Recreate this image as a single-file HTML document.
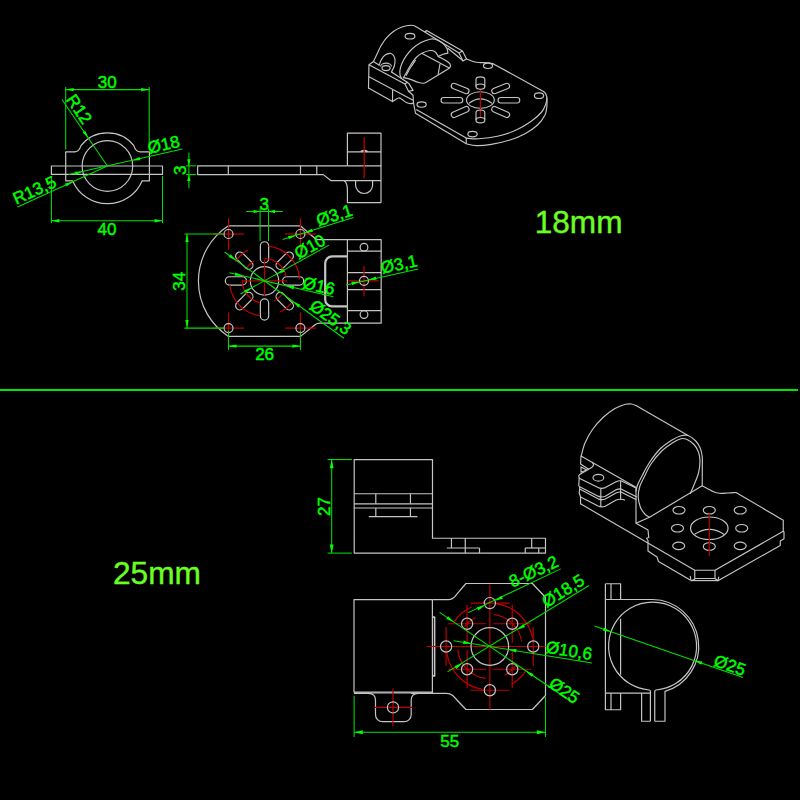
<!DOCTYPE html>
<html><head><meta charset="utf-8"><title>mount drawing</title>
<style>
html,body{margin:0;padding:0;background:#000;}
body{width:800px;height:800px;overflow:hidden;}
svg{display:block;}
text{font-family:"Liberation Sans",sans-serif;}
</style></head><body>
<svg width="800" height="800" viewBox="0 0 800 800">
<rect x="0" y="0" width="800" height="800" fill="#000"/>
<rect x="0" y="389" width="798" height="2" fill="#00e400"/>
<text x="534.7" y="232.7" font-size="31.6" fill="#6aff24" stroke="#6aff24" stroke-width="0.4">18mm</text>
<text x="112.9" y="583.8" font-size="31.7" fill="#6aff24" stroke="#6aff24" stroke-width="0.4">25mm</text>
<circle cx="107.40" cy="166.00" r="25.30" stroke="#c4c4c4" stroke-width="1.2" fill="none"/>
<path d="M51.4,166 H162.5 V174.4 H51.4 Z" stroke="#c4c4c4" stroke-width="1.2" fill="none" stroke-linejoin="round"/>
<path d="M74.50,151.85 L65.70,151.85 L65.70,180.90 L72.70,180.90" stroke="#c4c4c4" stroke-width="1.2" fill="none" stroke-linejoin="round" stroke-linecap="round"/>
<path d="M140.30,151.85 L149.40,151.85 L149.40,180.90 L142.10,180.90" stroke="#c4c4c4" stroke-width="1.2" fill="none" stroke-linejoin="round" stroke-linecap="round"/>
<path d="M74.5,151.85 Q79,151.85 81,145.6 A33.6,33.6 0 0 1 133.8,145.6 Q135.8,151.85 140.3,151.85" stroke="#c4c4c4" stroke-width="1.2" fill="none" stroke-linejoin="round"/>
<path d="M72.7,180.9 A37.8,37.8 0 0 0 142.1,180.9" stroke="#c4c4c4" stroke-width="1.2" fill="none" stroke-linejoin="round"/>
<line x1="65.70" y1="87.00" x2="65.70" y2="149.50" stroke="#00e000" stroke-width="1.05"/>
<line x1="149.20" y1="87.00" x2="149.20" y2="150.00" stroke="#00e000" stroke-width="1.05"/>
<line x1="65.70" y1="89.60" x2="149.20" y2="89.60" stroke="#00e000" stroke-width="1.05"/>
<path d="M65.70,89.60 L73.70,87.90 L73.70,91.30 Z" fill="#00ff00"/>
<path d="M149.20,89.60 L141.20,91.30 L141.20,87.90 Z" fill="#00ff00"/>
<text transform="translate(107.20,82.00) rotate(0.00)" x="0" y="6.09" font-size="17" fill="#00ff00" stroke="#00ff00" stroke-width="0.45" text-anchor="middle">30</text>
<line x1="51.40" y1="176.00" x2="51.40" y2="223.00" stroke="#00e000" stroke-width="1.05"/>
<line x1="162.50" y1="176.00" x2="162.50" y2="223.00" stroke="#00e000" stroke-width="1.05"/>
<line x1="51.40" y1="220.70" x2="162.50" y2="220.70" stroke="#00e000" stroke-width="1.05"/>
<path d="M51.40,220.70 L59.40,219.00 L59.40,222.40 Z" fill="#00ff00"/>
<path d="M162.50,220.70 L154.50,222.40 L154.50,219.00 Z" fill="#00ff00"/>
<text transform="translate(107.00,229.00) rotate(0.00)" x="0" y="6.09" font-size="17" fill="#00ff00" stroke="#00ff00" stroke-width="0.45" text-anchor="middle">40</text>
<line x1="107.40" y1="166.00" x2="62.00" y2="99.50" stroke="#00e000" stroke-width="1.05"/>
<path d="M88.48,138.25 L82.57,132.59 L85.38,130.68 Z" fill="#00ff00"/>
<text transform="translate(79.40,109.00) rotate(55.70)" x="0" y="6.09" font-size="17" fill="#00ff00" stroke="#00ff00" stroke-width="0.45" text-anchor="middle">R12</text>
<line x1="68.75" y1="174.60" x2="182.50" y2="149.00" stroke="#00e000" stroke-width="1.05"/>
<path d="M132.08,160.45 L139.51,157.03 L140.26,160.35 Z" fill="#00ff00"/>
<path d="M82.72,171.55 L75.29,174.97 L74.54,171.65 Z" fill="#00ff00"/>
<text transform="translate(163.70,144.30) rotate(-12.60)" x="0" y="6.09" font-size="17" fill="#00ff00" stroke="#00ff00" stroke-width="0.45" text-anchor="middle">Ø18</text>
<line x1="107.40" y1="166.00" x2="17.50" y2="207.00" stroke="#00e000" stroke-width="1.05"/>
<path d="M73.00,181.69 L66.43,186.55 L65.02,183.46 Z" fill="#00ff00"/>
<text transform="translate(34.40,189.90) rotate(-24.50)" x="0" y="6.09" font-size="17" fill="#00ff00" stroke="#00ff00" stroke-width="0.45" text-anchor="middle">R13,5</text>
<path d="M381.00,165.85 L197.65,165.85 L197.65,174.60 L323.25,174.60 L331.10,180.70 L344.25,180.70" stroke="#c4c4c4" stroke-width="1.2" fill="none" stroke-linejoin="round" stroke-linecap="round"/>
<path d="M344.25,180.7 Q347.4,183 347.4,190 V202.6 H381 V133.1 H347.4 V165.85" stroke="#c4c4c4" stroke-width="1.2" fill="none" stroke-linejoin="round"/>
<line x1="228.30" y1="165.85" x2="228.30" y2="174.60" stroke="#c4c4c4" stroke-width="1.2"/>
<line x1="300.50" y1="165.85" x2="300.50" y2="174.60" stroke="#c4c4c4" stroke-width="1.2"/>
<line x1="316.80" y1="165.85" x2="316.80" y2="174.60" stroke="#c4c4c4" stroke-width="1.2"/>
<line x1="347.40" y1="151.85" x2="381.00" y2="151.85" stroke="#c4c4c4" stroke-width="1.2"/>
<line x1="344.25" y1="180.70" x2="381.00" y2="180.70" stroke="#c4c4c4" stroke-width="1.2"/>
<path d="M355.6,180.7 V185 A8.5,8.5 0 0 0 372.6,185 V180.7" stroke="#c4c4c4" stroke-width="1.2" fill="none" stroke-linejoin="round"/>
<path d="M360.7,151.6 Q364.2,149.6 367.7,151.6" stroke="#c4c4c4" stroke-width="1.6" fill="none" stroke-linejoin="round"/>
<line x1="364.20" y1="137.20" x2="364.20" y2="178.30" stroke="#be0000" stroke-width="1.3"/>
<line x1="188.90" y1="152.40" x2="188.90" y2="188.20" stroke="#00e000" stroke-width="1.05"/>
<line x1="186.10" y1="165.85" x2="196.20" y2="165.85" stroke="#00e000" stroke-width="1.05"/>
<line x1="186.10" y1="174.60" x2="196.20" y2="174.60" stroke="#00e000" stroke-width="1.05"/>
<path d="M188.90,165.85 L187.20,159.35 L190.60,159.35 Z" fill="#00ff00"/>
<path d="M188.90,174.60 L190.60,181.10 L187.20,181.10 Z" fill="#00ff00"/>
<text transform="translate(180.30,170.20) rotate(-90.00)" x="0" y="6.09" font-size="17" fill="#00ff00" stroke="#00ff00" stroke-width="0.45" text-anchor="middle">3</text>
<path d="M228.4,225.8 H300.3 L316.5,239.7 H381.15 V323.2 H320 Q317,323.2 315,324.8 L300.6,336.4 H228.4 A66,66 0 0 1 228.4,225.8" stroke="#c4c4c4" stroke-width="1.2" fill="none" stroke-linejoin="round"/>
<circle cx="264.50" cy="280.90" r="14.20" stroke="#c4c4c4" stroke-width="1.2" fill="none"/>
<path d="M286.70,285.05 L299.50,285.05 A4.15,4.15 0 0 0 299.50,276.75 L286.70,276.75 A4.15,4.15 0 0 0 286.70,285.05 Z" stroke="#c4c4c4" stroke-width="1.2" fill="none" stroke-linejoin="round"/>
<path d="M277.26,299.53 L286.31,308.58 A4.15,4.15 0 0 0 292.18,302.71 L283.13,293.66 A4.15,4.15 0 0 0 277.26,299.53 Z" stroke="#c4c4c4" stroke-width="1.2" fill="none" stroke-linejoin="round"/>
<path d="M260.35,303.10 L260.35,315.90 A4.15,4.15 0 0 0 268.65,315.90 L268.65,303.10 A4.15,4.15 0 0 0 260.35,303.10 Z" stroke="#c4c4c4" stroke-width="1.2" fill="none" stroke-linejoin="round"/>
<path d="M245.87,293.66 L236.82,302.71 A4.15,4.15 0 0 0 242.69,308.58 L251.74,299.53 A4.15,4.15 0 0 0 245.87,293.66 Z" stroke="#c4c4c4" stroke-width="1.2" fill="none" stroke-linejoin="round"/>
<path d="M242.30,276.75 L229.50,276.75 A4.15,4.15 0 0 0 229.50,285.05 L242.30,285.05 A4.15,4.15 0 0 0 242.30,276.75 Z" stroke="#c4c4c4" stroke-width="1.2" fill="none" stroke-linejoin="round"/>
<path d="M251.74,262.27 L242.69,253.22 A4.15,4.15 0 0 0 236.82,259.09 L245.87,268.14 A4.15,4.15 0 0 0 251.74,262.27 Z" stroke="#c4c4c4" stroke-width="1.2" fill="none" stroke-linejoin="round"/>
<path d="M268.65,258.70 L268.65,245.90 A4.15,4.15 0 0 0 260.35,245.90 L260.35,258.70 A4.15,4.15 0 0 0 268.65,258.70 Z" stroke="#c4c4c4" stroke-width="1.2" fill="none" stroke-linejoin="round"/>
<path d="M283.13,268.14 L292.18,259.09 A4.15,4.15 0 0 0 286.31,253.22 L277.26,262.27 A4.15,4.15 0 0 0 283.13,268.14 Z" stroke="#c4c4c4" stroke-width="1.2" fill="none" stroke-linejoin="round"/>
<line x1="213.00" y1="234.00" x2="244.00" y2="234.00" stroke="#be0000" stroke-width="1.2"/>
<line x1="228.50" y1="218.30" x2="228.50" y2="249.70" stroke="#be0000" stroke-width="1.2"/>
<circle cx="228.50" cy="234.00" r="4.50" stroke="#c4c4c4" stroke-width="1.2" fill="none"/>
<line x1="284.90" y1="234.00" x2="315.90" y2="234.00" stroke="#be0000" stroke-width="1.2"/>
<line x1="300.40" y1="218.30" x2="300.40" y2="249.70" stroke="#be0000" stroke-width="1.2"/>
<circle cx="300.40" cy="234.00" r="4.50" stroke="#c4c4c4" stroke-width="1.2" fill="none"/>
<line x1="213.00" y1="328.10" x2="244.00" y2="328.10" stroke="#be0000" stroke-width="1.2"/>
<line x1="228.50" y1="312.40" x2="228.50" y2="343.80" stroke="#be0000" stroke-width="1.2"/>
<circle cx="228.50" cy="328.10" r="4.50" stroke="#c4c4c4" stroke-width="1.2" fill="none"/>
<line x1="284.90" y1="328.10" x2="315.90" y2="328.10" stroke="#be0000" stroke-width="1.2"/>
<line x1="300.40" y1="312.40" x2="300.40" y2="343.80" stroke="#be0000" stroke-width="1.2"/>
<circle cx="300.40" cy="328.10" r="4.50" stroke="#c4c4c4" stroke-width="1.2" fill="none"/>
<line x1="347.40" y1="239.70" x2="347.40" y2="323.20" stroke="#c4c4c4" stroke-width="1.2"/>
<line x1="347.40" y1="251.10" x2="381.15" y2="251.10" stroke="#c4c4c4" stroke-width="1.2"/>
<line x1="347.40" y1="272.60" x2="381.15" y2="272.60" stroke="#c4c4c4" stroke-width="1.2"/>
<line x1="347.40" y1="289.60" x2="381.15" y2="289.60" stroke="#c4c4c4" stroke-width="1.2"/>
<line x1="347.40" y1="310.60" x2="381.15" y2="310.60" stroke="#c4c4c4" stroke-width="1.2"/>
<line x1="348.20" y1="280.85" x2="378.90" y2="280.85" stroke="#be0000" stroke-width="1.2"/>
<line x1="364.00" y1="266.10" x2="364.00" y2="296.20" stroke="#be0000" stroke-width="1.2"/>
<circle cx="364.00" cy="247.25" r="3.85" stroke="#c4c4c4" stroke-width="1.2" fill="none"/>
<circle cx="364.00" cy="280.85" r="4.50" stroke="#c4c4c4" stroke-width="1.2" fill="none"/>
<circle cx="364.00" cy="314.60" r="3.85" stroke="#c4c4c4" stroke-width="1.2" fill="none"/>
<path d="M347.4,256.35 H332.2 A7,7 0 0 0 325.2,263.35 V299.4 A7,7 0 0 0 332.2,306.4 H347.4" stroke="#c4c4c4" stroke-width="2.2" fill="none" stroke-linejoin="round"/>
<line x1="264.50" y1="259.90" x2="264.50" y2="295.90" stroke="#be0000" stroke-width="1.2"/>
<line x1="242.00" y1="280.90" x2="287.00" y2="280.90" stroke="#be0000" stroke-width="1.2"/>
<path d="M268.46,246.12 A35.00,35.00 0 0 1 299.47,279.37" stroke="#be0000" stroke-width="1.2" fill="none"/>
<path d="M259.63,315.56 A35.00,35.00 0 0 1 229.76,285.17" stroke="#be0000" stroke-width="1.2" fill="none"/>
<path d="M264.89,258.70 A22.20,22.20 0 0 1 286.21,276.28" stroke="#be0000" stroke-width="1.2" fill="none"/>
<path d="M259.88,302.61 A22.20,22.20 0 0 1 242.30,280.90" stroke="#be0000" stroke-width="1.2" fill="none"/>
<path d="M235.15,261.84 A35.00,35.00 0 0 1 248.07,250.00" stroke="#be0000" stroke-width="1.2" fill="none"/>
<path d="M246.77,267.54 A22.20,22.20 0 0 1 254.08,261.30" stroke="#be0000" stroke-width="1.2" fill="none"/>
<path d="M291.31,303.40 A35.00,35.00 0 0 1 280.39,312.09" stroke="#be0000" stroke-width="1.2" fill="none"/>
<path d="M282.23,294.26 A22.20,22.20 0 0 1 274.23,300.85" stroke="#be0000" stroke-width="1.2" fill="none"/>
<line x1="187.00" y1="234.00" x2="187.00" y2="328.10" stroke="#00e000" stroke-width="1.05"/>
<line x1="184.40" y1="234.00" x2="223.70" y2="234.00" stroke="#00e000" stroke-width="1.05"/>
<line x1="184.40" y1="328.10" x2="223.70" y2="328.10" stroke="#00e000" stroke-width="1.05"/>
<path d="M187.00,234.00 L188.70,242.00 L185.30,242.00 Z" fill="#00ff00"/>
<path d="M187.00,328.10 L185.30,320.10 L188.70,320.10 Z" fill="#00ff00"/>
<text transform="translate(178.80,281.30) rotate(-90.00)" x="0" y="6.09" font-size="17" fill="#00ff00" stroke="#00ff00" stroke-width="0.45" text-anchor="middle">34</text>
<line x1="228.50" y1="330.70" x2="228.50" y2="350.00" stroke="#00e000" stroke-width="1.05"/>
<line x1="300.40" y1="330.70" x2="300.40" y2="350.00" stroke="#00e000" stroke-width="1.05"/>
<line x1="228.50" y1="346.10" x2="300.40" y2="346.10" stroke="#00e000" stroke-width="1.05"/>
<path d="M228.50,346.10 L236.50,344.40 L236.50,347.80 Z" fill="#00ff00"/>
<path d="M300.40,346.10 L292.40,347.80 L292.40,344.40 Z" fill="#00ff00"/>
<text transform="translate(264.60,354.00) rotate(0.00)" x="0" y="6.09" font-size="17" fill="#00ff00" stroke="#00ff00" stroke-width="0.45" text-anchor="middle">26</text>
<line x1="246.10" y1="211.50" x2="282.90" y2="211.50" stroke="#00e000" stroke-width="1.05"/>
<line x1="260.10" y1="208.50" x2="260.10" y2="241.00" stroke="#00e000" stroke-width="1.05"/>
<line x1="268.50" y1="208.50" x2="268.50" y2="241.00" stroke="#00e000" stroke-width="1.05"/>
<path d="M260.10,211.50 L253.60,213.20 L253.60,209.80 Z" fill="#00ff00"/>
<path d="M268.50,211.50 L275.00,209.80 L275.00,213.20 Z" fill="#00ff00"/>
<text transform="translate(264.20,203.50) rotate(0.00)" x="0" y="6.09" font-size="17" fill="#00ff00" stroke="#00ff00" stroke-width="0.45" text-anchor="middle">3</text>
<line x1="282.60" y1="239.50" x2="353.50" y2="217.60" stroke="#00e000" stroke-width="1.05"/>
<path d="M304.70,232.67 L311.84,228.69 L312.84,231.94 Z" fill="#00ff00"/>
<path d="M296.10,235.33 L288.96,239.31 L287.96,236.06 Z" fill="#00ff00"/>
<text transform="translate(334.20,214.90) rotate(-17.20)" x="0" y="6.09" font-size="17" fill="#00ff00" stroke="#00ff00" stroke-width="0.45" text-anchor="middle">Ø3,1</text>
<line x1="240.40" y1="294.00" x2="329.00" y2="245.15" stroke="#00e000" stroke-width="1.05"/>
<path d="M276.94,274.04 L283.12,268.69 L284.76,271.67 Z" fill="#00ff00"/>
<path d="M252.06,287.76 L245.88,293.11 L244.24,290.13 Z" fill="#00ff00"/>
<text transform="translate(309.70,246.40) rotate(-29.00)" x="0" y="6.09" font-size="17" fill="#00ff00" stroke="#00ff00" stroke-width="0.45" text-anchor="middle">Ø10</text>
<line x1="229.50" y1="272.65" x2="333.40" y2="296.80" stroke="#00e000" stroke-width="1.05"/>
<path d="M286.12,285.93 L294.30,286.08 L293.53,289.39 Z" fill="#00ff00"/>
<path d="M242.88,275.87 L234.70,275.72 L235.47,272.41 Z" fill="#00ff00"/>
<text transform="translate(318.80,285.70) rotate(12.80)" x="0" y="6.09" font-size="17" fill="#00ff00" stroke="#00ff00" stroke-width="0.45" text-anchor="middle">Ø16</text>
<line x1="224.60" y1="252.00" x2="343.90" y2="338.25" stroke="#00e000" stroke-width="1.05"/>
<path d="M292.86,301.41 L300.34,304.72 L298.35,307.47 Z" fill="#00ff00"/>
<path d="M236.14,260.39 L228.66,257.08 L230.65,254.33 Z" fill="#00ff00"/>
<text transform="translate(330.70,316.90) rotate(36.00)" x="0" y="6.09" font-size="17" fill="#00ff00" stroke="#00ff00" stroke-width="0.45" text-anchor="middle">Ø25,3</text>
<line x1="346.15" y1="284.90" x2="418.25" y2="269.10" stroke="#00e000" stroke-width="1.05"/>
<path d="M368.40,279.89 L375.85,276.51 L376.57,279.83 Z" fill="#00ff00"/>
<path d="M359.60,281.81 L352.15,285.19 L351.43,281.87 Z" fill="#00ff00"/>
<text transform="translate(399.00,263.90) rotate(-12.40)" x="0" y="6.09" font-size="17" fill="#00ff00" stroke="#00ff00" stroke-width="0.45" text-anchor="middle">Ø3,1</text>
<path d="M354.2,459.55 H432.5 V538.25 H545.5 V553.1 H354.2 Z" stroke="#c4c4c4" stroke-width="1.2" fill="none" stroke-linejoin="round"/>
<line x1="354.20" y1="493.75" x2="432.50" y2="493.75" stroke="#c4c4c4" stroke-width="1.2"/>
<line x1="354.20" y1="503.80" x2="432.50" y2="503.80" stroke="#c4c4c4" stroke-width="1.2"/>
<line x1="354.20" y1="508.00" x2="432.50" y2="508.00" stroke="#c4c4c4" stroke-width="1.2"/>
<line x1="368.75" y1="516.70" x2="417.50" y2="516.70" stroke="#c4c4c4" stroke-width="1.2"/>
<line x1="375.80" y1="493.75" x2="375.80" y2="503.80" stroke="#c4c4c4" stroke-width="1.2"/>
<line x1="375.80" y1="508.00" x2="375.80" y2="516.70" stroke="#c4c4c4" stroke-width="1.2"/>
<line x1="410.45" y1="493.75" x2="410.45" y2="503.80" stroke="#c4c4c4" stroke-width="1.2"/>
<line x1="410.45" y1="508.00" x2="410.45" y2="516.70" stroke="#c4c4c4" stroke-width="1.2"/>
<line x1="451.45" y1="538.25" x2="451.45" y2="548.00" stroke="#c4c4c4" stroke-width="1.2"/>
<line x1="465.25" y1="538.25" x2="465.25" y2="553.10" stroke="#c4c4c4" stroke-width="1.2"/>
<line x1="446.80" y1="548.00" x2="479.50" y2="548.00" stroke="#c4c4c4" stroke-width="1.2"/>
<line x1="479.50" y1="548.00" x2="479.50" y2="553.10" stroke="#c4c4c4" stroke-width="1.2"/>
<line x1="531.70" y1="538.25" x2="531.70" y2="548.00" stroke="#c4c4c4" stroke-width="1.2"/>
<line x1="525.25" y1="548.00" x2="545.50" y2="548.00" stroke="#c4c4c4" stroke-width="1.2"/>
<line x1="525.25" y1="548.00" x2="525.25" y2="553.10" stroke="#c4c4c4" stroke-width="1.2"/>
<line x1="538.75" y1="548.00" x2="538.75" y2="553.10" stroke="#c4c4c4" stroke-width="1.2"/>
<line x1="331.70" y1="459.55" x2="331.70" y2="553.10" stroke="#00e000" stroke-width="1.05"/>
<line x1="327.50" y1="459.55" x2="351.80" y2="459.55" stroke="#00e000" stroke-width="1.05"/>
<line x1="327.50" y1="553.10" x2="351.80" y2="553.10" stroke="#00e000" stroke-width="1.05"/>
<path d="M331.70,459.55 L333.65,468.25 L329.75,468.25 Z" fill="#00ff00"/>
<path d="M331.70,553.10 L329.75,544.40 L333.65,544.40 Z" fill="#00ff00"/>
<text transform="translate(323.60,506.60) rotate(-90.00)" x="0" y="6.09" font-size="17" fill="#00ff00" stroke="#00ff00" stroke-width="0.45" text-anchor="middle">27</text>
<path d="M432.4,599.6 H354 V692 H432.4" stroke="#c4c4c4" stroke-width="1.2" fill="none" stroke-linejoin="round"/>
<line x1="354.00" y1="692.90" x2="432.40" y2="692.90" stroke="#c4c4c4" stroke-width="1.2"/>
<line x1="432.40" y1="599.60" x2="432.40" y2="693.40" stroke="#c4c4c4" stroke-width="1.2"/>
<path d="M432.4,617.1 H434.6 V675.9 H432.4" stroke="#c4c4c4" stroke-width="1.6" fill="none" stroke-linejoin="round"/>
<path d="M432.4,599.6 H448.5 Q453,599.6 456.25,594.9 L465.9,583.5 H532.4 L545.5,597.5 V695.5 L532.4,709.5 H465.9 L452.75,695.5 Q450,693.4 446.5,693.4 H411.2" stroke="#c4c4c4" stroke-width="1.2" fill="none" stroke-linejoin="round"/>
<path d="M354,693.4 H368.5 Q375.5,693.4 375.5,700.4 V714.7 A7,7 0 0 0 382.5,721.7 H404.2 A7,7 0 0 0 411.2,714.7 V700.4 Q411.2,693.4 418.2,693.4" stroke="#c4c4c4" stroke-width="1.2" fill="none" stroke-linejoin="round"/>
<line x1="374.60" y1="707.40" x2="412.25" y2="707.40" stroke="#be0000" stroke-width="1.2"/>
<line x1="393.00" y1="688.50" x2="393.00" y2="726.25" stroke="#be0000" stroke-width="1.2"/>
<circle cx="393.00" cy="707.40" r="5.60" stroke="#c4c4c4" stroke-width="1.2" fill="none"/>
<line x1="426.80" y1="646.50" x2="545.50" y2="646.50" stroke="#be0000" stroke-width="1.2"/>
<line x1="489.85" y1="584.40" x2="489.85" y2="709.50" stroke="#be0000" stroke-width="1.2"/>
<line x1="470.35" y1="603.10" x2="509.35" y2="603.10" stroke="#be0000" stroke-width="1.2"/>
<line x1="470.35" y1="690.25" x2="509.35" y2="690.25" stroke="#be0000" stroke-width="1.2"/>
<line x1="446.10" y1="627.00" x2="446.10" y2="666.00" stroke="#be0000" stroke-width="1.2"/>
<line x1="533.25" y1="627.00" x2="533.25" y2="666.00" stroke="#be0000" stroke-width="1.2"/>
<line x1="448.10" y1="623.75" x2="486.10" y2="623.75" stroke="#be0000" stroke-width="1.2"/>
<line x1="467.10" y1="604.75" x2="467.10" y2="642.75" stroke="#be0000" stroke-width="1.2"/>
<line x1="493.25" y1="623.75" x2="531.25" y2="623.75" stroke="#be0000" stroke-width="1.2"/>
<line x1="512.25" y1="604.75" x2="512.25" y2="642.75" stroke="#be0000" stroke-width="1.2"/>
<line x1="448.10" y1="669.25" x2="486.10" y2="669.25" stroke="#be0000" stroke-width="1.2"/>
<line x1="467.10" y1="650.25" x2="467.10" y2="688.25" stroke="#be0000" stroke-width="1.2"/>
<line x1="493.25" y1="669.25" x2="531.25" y2="669.25" stroke="#be0000" stroke-width="1.2"/>
<line x1="512.25" y1="650.25" x2="512.25" y2="688.25" stroke="#be0000" stroke-width="1.2"/>
<path d="M494.77,603.28 A43.50,43.50 0 0 1 532.55,638.20" stroke="#be0000" stroke-width="1.2" fill="none"/>
<path d="M482.30,689.34 A43.50,43.50 0 0 1 446.89,653.30" stroke="#be0000" stroke-width="1.2" fill="none"/>
<path d="M454.22,621.55 A43.50,43.50 0 0 1 471.47,607.08" stroke="#be0000" stroke-width="1.2" fill="none"/>
<path d="M525.48,671.45 A43.50,43.50 0 0 1 511.60,684.17" stroke="#be0000" stroke-width="1.2" fill="none"/>
<path d="M493.77,614.54 A32.20,32.20 0 0 1 521.65,641.46" stroke="#be0000" stroke-width="1.2" fill="none"/>
<path d="M485.93,678.46 A32.20,32.20 0 0 1 457.83,649.87" stroke="#be0000" stroke-width="1.2" fill="none"/>
<path d="M464.48,626.68 A32.20,32.20 0 0 1 475.73,617.56" stroke="#be0000" stroke-width="1.2" fill="none"/>
<path d="M516.23,664.97 A32.20,32.20 0 0 1 504.47,675.19" stroke="#be0000" stroke-width="1.2" fill="none"/>
<circle cx="489.85" cy="646.50" r="18.80" stroke="#c4c4c4" stroke-width="1.2" fill="none"/>
<circle cx="489.85" cy="603.10" r="5.60" stroke="#c4c4c4" stroke-width="1.2" fill="none"/>
<circle cx="446.10" cy="646.50" r="5.60" stroke="#c4c4c4" stroke-width="1.2" fill="none"/>
<circle cx="533.25" cy="646.50" r="5.60" stroke="#c4c4c4" stroke-width="1.2" fill="none"/>
<circle cx="489.85" cy="690.25" r="5.60" stroke="#c4c4c4" stroke-width="1.2" fill="none"/>
<circle cx="467.10" cy="623.75" r="5.60" stroke="#c4c4c4" stroke-width="1.2" fill="none"/>
<circle cx="512.25" cy="623.75" r="5.60" stroke="#c4c4c4" stroke-width="1.2" fill="none"/>
<circle cx="467.10" cy="669.25" r="5.60" stroke="#c4c4c4" stroke-width="1.2" fill="none"/>
<circle cx="512.25" cy="669.25" r="5.60" stroke="#c4c4c4" stroke-width="1.2" fill="none"/>
<line x1="468.25" y1="612.60" x2="560.75" y2="568.90" stroke="#00e000" stroke-width="1.05"/>
<path d="M494.91,600.71 L501.42,595.75 L502.87,598.83 Z" fill="#00ff00"/>
<path d="M484.79,605.49 L478.28,610.45 L476.83,607.37 Z" fill="#00ff00"/>
<text transform="translate(533.50,571.20) rotate(-25.30)" x="0" y="6.09" font-size="17" fill="#00ff00" stroke="#00ff00" stroke-width="0.45" text-anchor="middle">8-Ø3,2</text>
<line x1="447.50" y1="671.90" x2="589.00" y2="585.50" stroke="#00e000" stroke-width="1.05"/>
<path d="M517.33,629.72 L523.27,624.10 L525.05,627.00 Z" fill="#00ff00"/>
<path d="M462.37,663.28 L456.43,668.90 L454.65,666.00 Z" fill="#00ff00"/>
<text transform="translate(563.00,590.60) rotate(-31.60)" x="0" y="6.09" font-size="17" fill="#00ff00" stroke="#00ff00" stroke-width="0.45" text-anchor="middle">Ø18,5</text>
<line x1="453.60" y1="640.70" x2="592.00" y2="662.90" stroke="#00e000" stroke-width="1.05"/>
<path d="M508.41,649.48 L516.58,649.07 L516.04,652.42 Z" fill="#00ff00"/>
<path d="M471.29,643.52 L463.12,643.93 L463.66,640.58 Z" fill="#00ff00"/>
<text transform="translate(569.10,650.20) rotate(9.10)" x="0" y="6.09" font-size="17" fill="#00ff00" stroke="#00ff00" stroke-width="0.45" text-anchor="middle">Ø10,6</text>
<line x1="439.60" y1="612.40" x2="573.30" y2="703.00" stroke="#00e000" stroke-width="1.05"/>
<path d="M525.86,670.90 L533.44,673.98 L531.53,676.80 Z" fill="#00ff00"/>
<path d="M453.84,622.10 L446.26,619.02 L448.17,616.20 Z" fill="#00ff00"/>
<text transform="translate(564.40,690.20) rotate(34.10)" x="0" y="6.09" font-size="17" fill="#00ff00" stroke="#00ff00" stroke-width="0.45" text-anchor="middle">Ø25</text>
<line x1="354.10" y1="695.80" x2="354.10" y2="737.00" stroke="#00e000" stroke-width="1.05"/>
<line x1="545.50" y1="697.00" x2="545.50" y2="737.00" stroke="#00e000" stroke-width="1.05"/>
<line x1="354.10" y1="732.20" x2="545.50" y2="732.20" stroke="#00e000" stroke-width="1.05"/>
<path d="M354.10,732.20 L362.80,730.25 L362.80,734.15 Z" fill="#00ff00"/>
<path d="M545.50,732.20 L536.80,734.15 L536.80,730.25 Z" fill="#00ff00"/>
<text transform="translate(449.70,741.00) rotate(0.00)" x="0" y="6.09" font-size="17" fill="#00ff00" stroke="#00ff00" stroke-width="0.45" text-anchor="middle">55</text>
<path d="M650.4,721.25 V691.5 Q650.4,690.1 649.2,690 A44,44 0 1 1 656,690 Q654.75,690.1 654.75,691.5 V721.25" stroke="#c4c4c4" stroke-width="1.2" fill="none" stroke-linejoin="round"/>
<path d="M605.4,599.5 H652.6 A46.9,46.9 0 0 1 665,691.4 V721.25 H654.75" stroke="#c4c4c4" stroke-width="1.2" fill="none" stroke-linejoin="round"/>
<path d="M605.4,583.75 H620.6 V599.5 M611,583.75 V599.5 M605.4,583.75 V709.75 H620.6 V693.1 M611,693.1 V709.75" stroke="#c4c4c4" stroke-width="1.2" fill="none" stroke-linejoin="round"/>
<line x1="605.40" y1="693.10" x2="650.40" y2="693.10" stroke="#c4c4c4" stroke-width="1.2"/>
<line x1="620.60" y1="618.75" x2="620.60" y2="674.75" stroke="#c4c4c4" stroke-width="1.2"/>
<path d="M650.4,721.25 H641.6 V693.1" stroke="#c4c4c4" stroke-width="1.2" fill="none" stroke-linejoin="round"/>
<line x1="594.40" y1="626.10" x2="743.00" y2="677.50" stroke="#00e000" stroke-width="1.05"/>
<path d="M694.18,660.53 L702.30,661.54 L701.19,664.75 Z" fill="#00ff00"/>
<path d="M611.02,631.77 L602.90,630.76 L604.01,627.55 Z" fill="#00ff00"/>
<text transform="translate(730.00,665.00) rotate(19.10)" x="0" y="6.09" font-size="17" fill="#00ff00" stroke="#00ff00" stroke-width="0.45" text-anchor="middle">Ø25</text>
<path d="M373.45,61.55 C374.12,60.12 376.31,55.51 377.50,53.00 C378.69,50.49 379.14,48.98 380.60,46.50 C382.06,44.02 384.06,40.64 386.25,38.10 C388.44,35.56 391.25,33.06 393.75,31.25 C396.25,29.44 398.86,28.21 401.25,27.25 C403.64,26.29 406.06,25.79 408.10,25.50 C410.14,25.21 412.02,25.20 413.50,25.50 C414.98,25.80 416.42,27.00 417.00,27.30" stroke="#c4c4c4" stroke-width="1.15" fill="none" stroke-linecap="round"/>
<line x1="417.00" y1="27.30" x2="459.00" y2="53.00" stroke="#c4c4c4" stroke-width="1.15"/>
<path d="M425.20,32.00 L426.50,30.50 L462.50,51.00 L459.00,53.00 L463.00,61.00 L466.50,59.00 L462.50,51.00" stroke="#c4c4c4" stroke-width="1.15" fill="none" stroke-linejoin="round" stroke-linecap="round"/>
<line x1="447.50" y1="48.00" x2="463.30" y2="61.00" stroke="#c4c4c4" stroke-width="1.15"/>
<path d="M401.35,78.20 C401.12,77.60 400.23,75.95 400.00,74.60 C399.77,73.25 399.70,71.90 400.00,70.10 C400.30,68.30 400.75,66.20 401.80,63.80 C402.85,61.40 404.50,58.25 406.30,55.70 C408.10,53.15 410.15,50.70 412.60,48.50 C415.05,46.30 418.10,44.05 421.00,42.50 C423.90,40.95 427.67,39.75 430.00,39.20 C432.33,38.65 433.08,38.68 435.00,39.20 C436.92,39.72 439.62,40.95 441.50,42.30 C443.38,43.65 445.27,45.85 446.30,47.30 C447.33,48.75 447.47,50.02 447.70,51.00 C447.93,51.98 447.70,52.83 447.70,53.20" stroke="#c4c4c4" stroke-width="1.15" fill="none" stroke-linecap="round"/>
<path d="M403.40,77.60 C403.88,76.80 405.07,74.95 406.30,72.80 C407.53,70.65 409.15,67.25 410.80,64.70 C412.45,62.15 414.35,59.42 416.20,57.50 C418.05,55.58 419.60,54.37 421.90,53.20 C424.20,52.03 427.82,50.73 430.00,50.50 C432.18,50.27 433.62,50.82 435.00,51.80 C436.38,52.78 437.75,55.63 438.30,56.40" stroke="#c4c4c4" stroke-width="1.15" fill="none" stroke-linecap="round"/>
<path d="M406.30,75.20 C406.98,73.97 408.88,70.27 410.40,67.80 C411.92,65.33 414.57,61.63 415.40,60.40" stroke="#c4c4c4" stroke-width="1.15" fill="none" stroke-linecap="round"/>
<path d="M438.30,56.40 C439.08,56.03 441.43,54.73 443.00,54.20 C444.57,53.67 446.92,53.37 447.70,53.20" stroke="#c4c4c4" stroke-width="1.15" fill="none" stroke-linecap="round"/>
<line x1="421.70" y1="53.30" x2="449.20" y2="68.00" stroke="#c4c4c4" stroke-width="1.15"/>
<path d="M438.30,56.40 C439.92,57.33 445.95,60.48 448.00,62.00 C450.05,63.52 450.40,64.45 450.60,65.50 C450.80,66.55 449.43,67.83 449.20,68.30" stroke="#c4c4c4" stroke-width="1.15" fill="none" stroke-linecap="round"/>
<line x1="449.20" y1="68.30" x2="427.50" y2="81.50" stroke="#c4c4c4" stroke-width="1.15"/>
<path d="M427.50,81.50 C426.82,81.78 424.98,83.07 423.40,83.20 C421.82,83.33 420.15,82.93 418.00,82.30 C415.85,81.67 412.93,80.18 410.50,79.40 C408.07,78.62 404.58,77.90 403.40,77.60" stroke="#c4c4c4" stroke-width="1.15" fill="none" stroke-linecap="round"/>
<line x1="440.00" y1="63.90" x2="438.10" y2="74.50" stroke="#c4c4c4" stroke-width="1.15"/>
<ellipse cx="410.00" cy="36.20" rx="4.90" ry="2.80" stroke="#c4c4c4" stroke-width="1.15" fill="none"/>
<path d="M379.30,65.15 C379.52,64.48 379.97,62.53 380.65,61.10 C381.32,59.67 382.23,57.80 383.35,56.60 C384.48,55.40 386.12,54.42 387.40,53.90 C388.67,53.38 389.95,53.15 391.00,53.45 C392.05,53.75 393.02,54.58 393.70,55.70 C394.38,56.83 394.98,58.40 395.05,60.20 C395.12,62.00 394.75,64.55 394.15,66.50 C393.55,68.45 391.90,71.00 391.45,71.90" stroke="#c4c4c4" stroke-width="1.15" fill="none" stroke-linecap="round"/>
<path d="M380.6,66.6 A5.4,3.4 0 0 1 391.5,66.6" stroke="#c4c4c4" stroke-width="1.15" fill="none" stroke-linejoin="round"/>
<ellipse cx="386.05" cy="68.10" rx="4.10" ry="2.50" stroke="#c4c4c4" stroke-width="1.15" fill="none"/>
<path d="M373.45,61.55 L368.95,64.70 L368.50,88.10" stroke="#c4c4c4" stroke-width="1.15" fill="none" stroke-linejoin="round" stroke-linecap="round"/>
<line x1="373.45" y1="61.55" x2="379.30" y2="65.15" stroke="#c4c4c4" stroke-width="1.15"/>
<line x1="368.95" y1="64.70" x2="404.95" y2="84.00" stroke="#c4c4c4" stroke-width="1.15"/>
<line x1="391.45" y1="71.90" x2="407.20" y2="82.25" stroke="#c4c4c4" stroke-width="1.15"/>
<line x1="368.95" y1="76.85" x2="413.05" y2="100.25" stroke="#c4c4c4" stroke-width="1.15"/>
<path d="M368.50,88.10 L392.50,101.60 L392.60,90.00" stroke="#c4c4c4" stroke-width="1.15" fill="none" stroke-linejoin="round" stroke-linecap="round"/>
<path d="M392.50,101.60 C393.52,101.00 397.10,98.38 398.65,98.00 C400.20,97.62 400.52,98.60 401.80,99.35 C403.08,100.10 404.80,101.79 406.30,102.50 C407.80,103.21 409.60,103.52 410.80,103.60 C412.00,103.67 413.05,103.06 413.50,102.95" stroke="#c4c4c4" stroke-width="1.15" fill="none" stroke-linecap="round"/>
<path d="M407.20,82.25 L404.95,84.05 L408.55,91.25 L413.05,90.35 L409.00,83.60 L407.20,82.25" stroke="#c4c4c4" stroke-width="1.15" fill="none" stroke-linejoin="round" stroke-linecap="round"/>
<path d="M408.55,91.25 L413.05,95.30 L413.50,102.95 L415.50,113.25" stroke="#c4c4c4" stroke-width="1.15" fill="none" stroke-linejoin="round" stroke-linecap="round"/>
<line x1="416.25" y1="109.50" x2="466.25" y2="138.10" stroke="#c4c4c4" stroke-width="1.15"/>
<line x1="415.50" y1="113.25" x2="466.25" y2="143.75" stroke="#c4c4c4" stroke-width="1.15"/>
<line x1="466.25" y1="138.10" x2="466.25" y2="143.75" stroke="#c4c4c4" stroke-width="1.15"/>
<path d="M466.25,138.10 C468.33,138.21 473.54,139.06 478.75,138.75 C483.96,138.44 491.25,137.71 497.50,136.25 C503.75,134.79 510.62,132.50 516.25,130.00 C521.88,127.50 527.08,124.17 531.25,121.25 C535.42,118.33 538.88,115.21 541.25,112.50 C543.62,109.79 544.56,107.42 545.50,105.00 C546.44,102.58 546.90,99.92 546.90,98.00 C546.90,96.08 546.07,94.58 545.50,93.50 C544.93,92.42 543.83,91.83 543.50,91.50" stroke="#c4c4c4" stroke-width="1.15" fill="none" stroke-linecap="round"/>
<path d="M466.25,143.75 C467.92,144.06 472.08,145.49 476.25,145.60 C480.42,145.71 485.62,145.33 491.25,144.40 C496.88,143.47 504.38,141.78 510.00,140.00 C515.62,138.22 520.42,136.25 525.00,133.75 C529.58,131.25 534.17,128.12 537.50,125.00 C540.83,121.88 543.43,118.12 545.00,115.00 C546.57,111.88 546.58,109.08 546.90,106.25 C547.22,103.42 546.90,99.38 546.90,98.00" stroke="#c4c4c4" stroke-width="1.15" fill="none" stroke-linecap="round"/>
<line x1="543.50" y1="91.50" x2="493.50" y2="63.90" stroke="#c4c4c4" stroke-width="1.15"/>
<path d="M493.50,63.90 C492.58,63.72 490.25,63.02 488.00,62.80 C485.75,62.58 482.33,62.77 480.00,62.60 C477.67,62.43 476.25,62.40 474.00,61.80 C471.75,61.20 467.75,59.47 466.50,59.00" stroke="#c4c4c4" stroke-width="1.15" fill="none" stroke-linecap="round"/>
<ellipse cx="421.60" cy="104.50" rx="4.60" ry="2.70" stroke="#c4c4c4" stroke-width="1.15" fill="none"/>
<ellipse cx="472.50" cy="134.10" rx="4.70" ry="2.80" stroke="#c4c4c4" stroke-width="1.15" fill="none"/>
<ellipse cx="488.00" cy="65.75" rx="4.50" ry="2.70" stroke="#c4c4c4" stroke-width="1.15" fill="none"/>
<ellipse cx="539.00" cy="95.70" rx="4.60" ry="2.80" stroke="#c4c4c4" stroke-width="1.15" fill="none"/>
<ellipse cx="480.40" cy="100.00" rx="13.90" ry="8.30" stroke="#c4c4c4" stroke-width="1.15" fill="none"/>
<path d="M469,103.4 Q480.4,94.4 492,103.4" stroke="#c4c4c4" stroke-width="1.15" fill="none" stroke-linejoin="round"/>
<line x1="480.40" y1="88.70" x2="480.40" y2="118.20" stroke="#be0000" stroke-width="1.2"/>
<path d="M500.80,102.95 L517.00,102.95 A2.75,2.75 0 0 0 517.00,97.45 L500.80,97.45 A2.75,2.75 0 0 0 500.80,102.95 Z" stroke="#c4c4c4" stroke-width="1.15" fill="none" stroke-linejoin="round"/>
<path d="M443.80,102.95 L460.00,102.95 A2.75,2.75 0 0 0 460.00,97.45 L443.80,97.45 A2.75,2.75 0 0 0 443.80,102.95 Z" stroke="#c4c4c4" stroke-width="1.15" fill="none" stroke-linejoin="round"/>
<path d="M495.42,93.55 L507.92,88.55 A2.75,2.75 0 0 0 505.88,83.45 L493.38,88.45 A2.75,2.75 0 0 0 495.42,93.55 Z" stroke="#c4c4c4" stroke-width="1.15" fill="none" stroke-linejoin="round"/>
<path d="M467.42,88.45 L454.92,83.45 A2.75,2.75 0 0 0 452.88,88.55 L465.38,93.55 A2.75,2.75 0 0 0 467.42,88.45 Z" stroke="#c4c4c4" stroke-width="1.15" fill="none" stroke-linejoin="round"/>
<path d="M493.28,111.71 L505.78,117.26 A2.75,2.75 0 0 0 508.02,112.24 L495.52,106.69 A2.75,2.75 0 0 0 493.28,111.71 Z" stroke="#c4c4c4" stroke-width="1.15" fill="none" stroke-linejoin="round"/>
<path d="M465.28,106.69 L452.78,112.24 A2.75,2.75 0 0 0 455.02,117.26 L467.52,111.71 A2.75,2.75 0 0 0 465.28,106.69 Z" stroke="#c4c4c4" stroke-width="1.15" fill="none" stroke-linejoin="round"/>
<path d="M476,86.6 V79.5 A4.4,2.6 0 0 1 484.8,79.5 V86.6" stroke="#c4c4c4" stroke-width="1.15" fill="none" stroke-linejoin="round"/>
<ellipse cx="480.40" cy="86.60" rx="4.40" ry="2.60" stroke="#c4c4c4" stroke-width="1.15" fill="none"/>
<path d="M476,120 V112.6 A4.4,2.6 0 0 1 484.8,112.6 V120" stroke="#c4c4c4" stroke-width="1.15" fill="none" stroke-linejoin="round"/>
<ellipse cx="480.40" cy="120.20" rx="4.40" ry="2.70" stroke="#c4c4c4" stroke-width="1.15" fill="none"/>
<path d="M581.25,455.75 C581.88,453.62 583.12,447.38 585.00,443.00 C586.88,438.62 589.50,433.75 592.50,429.50 C595.50,425.25 599.25,421.00 603.00,417.50 C606.75,414.00 611.25,410.70 615.00,408.50 C618.75,406.30 622.75,405.05 625.50,404.30 C628.25,403.55 629.75,403.80 631.50,404.00 C633.25,404.20 635.25,405.25 636.00,405.50" stroke="#c4c4c4" stroke-width="1.15" fill="none" stroke-linecap="round"/>
<line x1="636.00" y1="405.50" x2="688.00" y2="435.50" stroke="#c4c4c4" stroke-width="1.15"/>
<path d="M636.00,491.00 C636.25,490.00 636.50,487.50 637.50,485.00 C638.50,482.50 640.00,479.75 642.00,476.00 C644.00,472.25 646.50,467.00 649.50,462.50 C652.50,458.00 656.25,452.75 660.00,449.00 C663.75,445.25 668.50,442.22 672.00,440.00 C675.50,437.78 678.33,436.45 681.00,435.70 C683.67,434.95 685.58,434.66 688.00,435.50 C690.42,436.34 693.50,438.75 695.50,440.75 C697.50,442.75 698.88,444.88 700.00,447.50 C701.12,450.12 701.87,453.42 702.25,456.50 C702.63,459.58 702.29,464.42 702.30,466.00" stroke="#c4c4c4" stroke-width="1.15" fill="none" stroke-linecap="round"/>
<line x1="702.30" y1="466.00" x2="702.25" y2="485.75" stroke="#c4c4c4" stroke-width="1.15"/>
<path d="M649.50,517.25 C648.75,516.75 646.50,515.88 645.00,514.25 C643.50,512.62 641.63,510.38 640.50,507.50 C639.37,504.62 638.33,500.50 638.20,497.00 C638.08,493.50 638.74,489.88 639.75,486.50 C640.76,483.12 642.38,480.50 644.25,476.75 C646.12,473.00 648.12,468.25 651.00,464.00 C653.88,459.75 657.75,454.88 661.50,451.25 C665.25,447.62 670.25,444.34 673.50,442.25 C676.75,440.16 678.83,439.20 681.00,438.70 C683.17,438.20 684.33,438.28 686.50,439.25 C688.67,440.22 692.00,442.38 694.00,444.50 C696.00,446.62 697.50,449.25 698.50,452.00 C699.50,454.75 700.00,457.50 700.00,461.00 C700.00,464.50 699.50,469.00 698.50,473.00 C697.50,477.00 695.38,481.58 694.00,485.00 C692.62,488.42 690.88,492.08 690.25,493.50" stroke="#c4c4c4" stroke-width="1.15" fill="none" stroke-linecap="round"/>
<line x1="581.00" y1="456.10" x2="635.90" y2="487.15" stroke="#c4c4c4" stroke-width="1.15"/>
<path d="M581.00,456.10 L580.55,463.90 L588.65,469.15" stroke="#c4c4c4" stroke-width="1.15" fill="none" stroke-linejoin="round" stroke-linecap="round"/>
<path d="M592.25,462.40 C592.48,462.77 593.68,463.82 593.60,464.65 C593.52,465.47 592.62,466.60 591.80,467.35 C590.97,468.10 589.17,468.85 588.65,469.15" stroke="#c4c4c4" stroke-width="1.15" fill="none" stroke-linecap="round"/>
<line x1="588.65" y1="469.15" x2="579.65" y2="474.55" stroke="#c4c4c4" stroke-width="1.15"/>
<path d="M581.00,466.90 L586.85,470.05 L581.00,472.30 L581.00,466.90" stroke="#c4c4c4" stroke-width="1.15" fill="none" stroke-linejoin="round" stroke-linecap="round"/>
<path d="M579.65,474.55 C579.50,474.77 578.83,475.30 578.75,475.90 C578.67,476.50 579.12,477.77 579.20,478.15" stroke="#c4c4c4" stroke-width="1.15" fill="none" stroke-linecap="round"/>
<path d="M579.2,478.15 L598.1,487.6 Q601.7,489 605.3,487.6 L616.1,481.75 Q618.8,480.4 621.05,480.85 L636,487.9" stroke="#c4c4c4" stroke-width="1.15" fill="none" stroke-linejoin="round"/>
<path d="M579.65,486.7 L598.1,496.15 Q601.7,497.7 605.3,496.3 L616.5,489.6 Q619,488.5 621.05,488.95 L636.8,497.05" stroke="#c4c4c4" stroke-width="1.15" fill="none" stroke-linejoin="round"/>
<path d="M579.65,488.95 L598.1,498.85 Q601.7,500.4 605.3,499 L616.5,492.75 Q619,491.65 621.05,492.1 L636.35,499.75" stroke="#c4c4c4" stroke-width="1.15" fill="none" stroke-linejoin="round"/>
<path d="M580.55,497.05 L598.1,506.05 Q601.7,507.6 605.3,506.2 L615.2,500.6 Q618,499.2 620.6,499.3 Q623.3,499.4 625.1,500.2" stroke="#c4c4c4" stroke-width="1.15" fill="none" stroke-linejoin="round"/>
<path d="M579.20,478.15 L578.75,485.80 L579.65,486.70 L579.65,488.95 L579.20,493.00 L580.55,497.05 L580.55,503.80" stroke="#c4c4c4" stroke-width="1.15" fill="none" stroke-linejoin="round" stroke-linecap="round"/>
<line x1="600.80" y1="488.95" x2="600.80" y2="506.95" stroke="#c4c4c4" stroke-width="1.15"/>
<line x1="620.60" y1="480.85" x2="620.60" y2="499.75" stroke="#c4c4c4" stroke-width="1.15"/>
<ellipse cx="598.40" cy="477.70" rx="5.40" ry="3.40" stroke="#c4c4c4" stroke-width="1.15" fill="none"/>
<line x1="580.55" y1="503.80" x2="694.75" y2="570.25" stroke="#c4c4c4" stroke-width="1.15"/>
<line x1="636.00" y1="487.70" x2="636.00" y2="523.25" stroke="#c4c4c4" stroke-width="1.15"/>
<line x1="636.00" y1="523.25" x2="649.50" y2="517.25" stroke="#c4c4c4" stroke-width="1.15"/>
<line x1="649.50" y1="517.25" x2="702.25" y2="485.75" stroke="#c4c4c4" stroke-width="1.15"/>
<path d="M636.00,523.25 L648.00,530.00 L648.75,537.50 L646.50,538.25 L648.00,540.50 L648.00,551.00 L657.00,557.00 L658.50,561.50 L690.25,580.00" stroke="#c4c4c4" stroke-width="1.15" fill="none" stroke-linejoin="round" stroke-linecap="round"/>
<path d="M702.25,485.75 C704.12,486.75 710.62,490.50 713.50,491.75 C716.38,493.00 717.08,493.04 719.50,493.25 C721.92,493.46 725.25,493.12 728.00,493.00 C730.75,492.88 734.67,492.58 736.00,492.50" stroke="#c4c4c4" stroke-width="1.15" fill="none" stroke-linecap="round"/>
<path d="M736.00,492.50 L783.25,520.25 L783.25,531.25 L784.00,532.00 L784.00,538.75 L780.25,541.00 L780.25,545.50 L718.00,580.75" stroke="#c4c4c4" stroke-width="1.15" fill="none" stroke-linejoin="round" stroke-linecap="round"/>
<path d="M783.25,531.25 L715.00,570.25 L694.75,570.25" stroke="#c4c4c4" stroke-width="1.15" fill="none" stroke-linejoin="round" stroke-linecap="round"/>
<path d="M694.75,570.25 L694.75,578.50 L715.00,578.50 L715.00,570.25" stroke="#c4c4c4" stroke-width="1.15" fill="none" stroke-linejoin="round" stroke-linecap="round"/>
<path d="M690.25,576.25 L691.00,580.75 L694.75,579.25" stroke="#c4c4c4" stroke-width="1.15" fill="none" stroke-linejoin="round" stroke-linecap="round"/>
<path d="M715.00,578.50 L718.00,580.75 L718.75,577.00" stroke="#c4c4c4" stroke-width="1.15" fill="none" stroke-linejoin="round" stroke-linecap="round"/>
<line x1="691.00" y1="580.60" x2="718.00" y2="580.60" stroke="#c4c4c4" stroke-width="1.15"/>
<ellipse cx="679.00" cy="510.25" rx="6.00" ry="3.75" stroke="#c4c4c4" stroke-width="1.15" fill="none"/>
<ellipse cx="709.30" cy="510.25" rx="6.00" ry="3.75" stroke="#c4c4c4" stroke-width="1.15" fill="none"/>
<ellipse cx="740.20" cy="510.25" rx="6.00" ry="3.75" stroke="#c4c4c4" stroke-width="1.15" fill="none"/>
<ellipse cx="677.50" cy="528.25" rx="6.00" ry="3.75" stroke="#c4c4c4" stroke-width="1.15" fill="none"/>
<ellipse cx="741.70" cy="528.25" rx="6.00" ry="3.75" stroke="#c4c4c4" stroke-width="1.15" fill="none"/>
<ellipse cx="678.70" cy="545.80" rx="6.00" ry="3.75" stroke="#c4c4c4" stroke-width="1.15" fill="none"/>
<ellipse cx="709.30" cy="546.50" rx="6.00" ry="3.75" stroke="#c4c4c4" stroke-width="1.15" fill="none"/>
<ellipse cx="740.20" cy="545.80" rx="6.00" ry="3.75" stroke="#c4c4c4" stroke-width="1.15" fill="none"/>
<ellipse cx="709.30" cy="528.25" rx="18.75" ry="11.25" stroke="#c4c4c4" stroke-width="1.15" fill="none"/>
<path d="M694.5,534.4 Q709.3,524.2 724.3,534.4" stroke="#c4c4c4" stroke-width="1.15" fill="none" stroke-linejoin="round"/>
<line x1="709.30" y1="514.00" x2="709.30" y2="556.00" stroke="#be0000" stroke-width="1.2"/>
</svg>
</body></html>
